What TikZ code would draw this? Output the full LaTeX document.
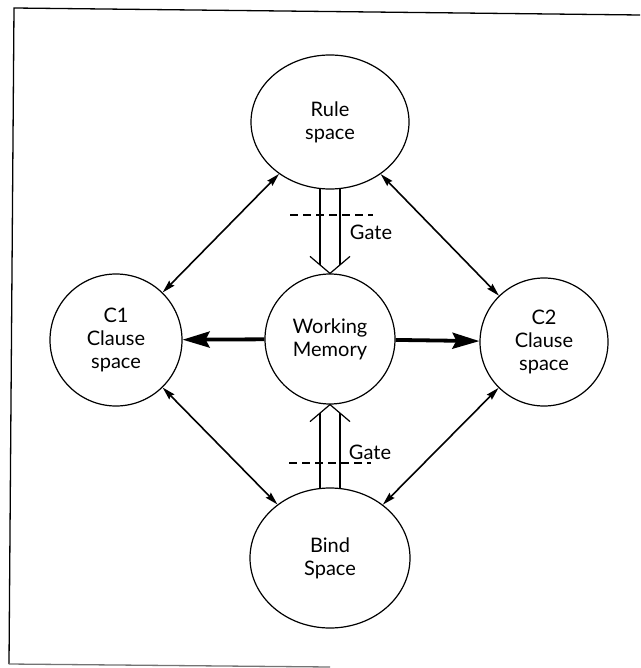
\documentclass[tikz,border=0pt]{standalone}
\usepackage{fontspec}
\setmainfont{Lato}
\usetikzlibrary{shapes.geometric,arrows.meta,calc}
\begin{document}
\begin{tikzpicture}[x=1pt,y=-1pt,
  space/.style={ellipse, draw, line width=1.2pt, inner sep=0pt, align=center,
    font=\fontsize{20}{23}\selectfont},
  link/.style={line width=1.6pt,
    {Stealth[length=13pt,width=7pt,inset=1.5pt]}-{Stealth[length=13pt,width=7pt,inset=1.5pt]}},
  feed/.style={line width=3.8pt, -{Stealth[length=27pt,width=16pt,inset=4pt]}},
  gatearrow/.style={line width=1.2pt},
  gateline/.style={line width=2.4pt, dash pattern=on 8pt off 5pt},
  gatelabel/.style={font=\fontsize{20}{22}\selectfont, inner sep=0pt},
  frame/.style={line width=1.3pt}
]
\useasboundingbox (0,0) rectangle (640,668);
\fill[white] (0,0) rectangle (640,668);

% border (left, top, partial bottom)
\coordinate (tl) at (14,8);
\coordinate (tr) at (640,15);
\coordinate (bl) at (9,664);
\coordinate (br) at (330,667);
\draw[frame] (tr) -- (tl) -- (bl);
\draw[frame, black!55] (bl) -- (br);

% spaces
\node[space, minimum width=158pt, minimum height=134pt] (rule) at (330,122) {Rule\\space};
\node[space, minimum width=130pt, minimum height=130pt] (wm) at (330,339) {Working\\Memory};
\node[space, minimum width=132pt, minimum height=132pt] (c1) at (116,340) {C1\\Clause\\space};
\node[space, minimum width=128pt, minimum height=128pt] (c2) at (544,342) {C2\\Clause\\space};
\node[space, minimum width=160pt, minimum height=140pt] (bind) at (330,558) {Bind\\Space};

% links between the spaces
\draw[link] (rule) -- (c1);
\draw[link] (rule) -- (c2);
\draw[link] (bind) -- (c1);
\draw[link] (bind) -- (c2);

% working memory feeds the clause spaces
\draw[feed] (wm) -- (c1);
\draw[feed] (wm) -- (c2);

% gated transfer: rule space -> working memory
\draw[gatearrow] ($(rule.south)+(-10,-1)$) -- ($(wm.north)+(-10,-8)$);
\draw[gatearrow] ($(rule.south)+(10,-1)$) -- ($(wm.north)+(10,-8)$);
\draw[gatearrow] ($(wm.north)+(-20,-17)$) -- (wm.north) -- ($(wm.north)+(20,-17)$);
\coordinate (g1a) at (290,215);
\coordinate (g1b) at (373,215);
\draw[gateline] (g1a) -- (g1b);
\node[gatelabel] (gate1) at (371,232) {Gate};

% gated transfer: bind space -> working memory
\draw[gatearrow] ($(bind.north)+(-10,1)$) -- ($(wm.south)+(-10,8)$);
\draw[gatearrow] ($(bind.north)+(10,1)$) -- ($(wm.south)+(10,8)$);
\draw[gatearrow] ($(wm.south)+(-20,17)$) -- (wm.south) -- ($(wm.south)+(20,17)$);
\coordinate (g2a) at (289,463);
\coordinate (g2b) at (371,463);
\draw[gateline] (g2a) -- (g2b);
\node[gatelabel] (gate2) at (370,452) {Gate};
\end{tikzpicture}
\end{document}
